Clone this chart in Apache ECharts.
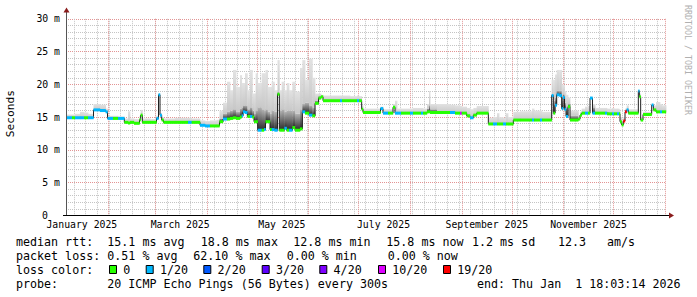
<!DOCTYPE html>
<html><head><meta charset="utf-8">
<script src="https://cdn.jsdelivr.net/npm/echarts@6/dist/echarts.min.js"></script>
<style>html,body{margin:0;padding:0;background:#fff}#c{width:697px;height:297px}</style>
</head><body><div id="c"></div>
<script>
// x values are days since 2025-01-01 00:00; each entry starts a segment, last entry = end of graph
const days = [5.5,9.1,10.9,13.9,16.3,18.7,22.0,25.9,29.3,30.4,33.7,36.7,40.5,42.7,43.9,46.3,49.6,50.3,51.3,55.9,
59.8,61.0,61.9,62.9,64.0,70.9,78.7,80.9,85.9,88.9,91.9,95.9,
97.6,99.7,102.1,103.9,105.7,107.5,109.9,110.9,111.7,112.9,114.3,115.9,117.3,118.3,119.3,120.5,122.9,124.3,125.2,126.5,
127.9,128.9,130.5,132.4,133.5,134.9,136.5,137.9,139.3,141.3,142.9,145.9,147.3,148.9,151.3,153.3,154.9,157.0,158.5,
159.7,169.9,171.1,175.9,180.1,181.3,182.9,183.7,194.2,195.7,198.7,201.7,202.9,
204.1,206.5,211.9,213.7,218.5,219.7,222.1,223.3,223.9,228.1,235.9,238.9,241.9,242.9,245.9,247.9,249.9,251.9,258.9,261.7,
264.1,265.3,267.7,269.5,270.7,273.9,277.9,285.1,286.3,289.9,291.1,296.9,297.9,298.9,299.9,301.5,302.9,303.7,304.6,305.5,
306.7,307.9,312.9,313.9,314.9,316.9,318.7,319.9,321.4,322.9,328.9,330.1,333.1,334.3,336.1,337.3,337.9,338.9,339.9,340.9,
341.9,342.9,348.9,349.5,350.3,351.7,356.9,357.9,359.5,361.9,363.1,365.5];
// median rtt in ms
const medianMs = [14.9,14.9,14.9,14.9,14.9,14.9,16.1,16.0,15.8,14.8,14.8,14.8,14.2,14.1,14.2,14.05,14.6,15.3,14.2,14.2,
14.8,18.4,15.3,14.55,14.2,14.2,14.2,14.2,13.75,13.65,13.65,13.65,
14.3,14.7,14.7,14.8,14.9,14.8,15.0,15.2,15.8,15.7,15.1,15.1,15.0,14.3,14.3,13.0,13.0,13.1,14.3,14.3,
13.1,13.1,13.0,18.5,13.0,13.0,13.3,13.0,13.0,13.4,13.0,13.2,15.8,15.6,15.3,15.2,17.1,17.9,18.1,
17.5,17.5,17.5,17.5,17.5,17.5,16.2,15.7,16.3,15.6,15.6,16.5,15.6,
15.6,15.6,15.6,15.6,15.6,15.6,15.8,15.8,15.7,15.7,15.7,15.6,15.6,15.6,15.2,14.9,15.3,15.6,13.95,13.95,
13.95,13.95,13.95,13.95,13.95,14.55,14.55,14.55,14.55,14.55,14.55,18.3,15.6,16.8,18.4,18.3,16.3,18.0,16.2,15.1,
16.6,14.55,14.7,15.3,15.6,15.6,15.6,17.9,15.6,15.6,15.6,15.5,15.5,15.5,15.5,15.5,14.3,13.8,14.4,15.8,
16.1,15.6,19.0,18.1,14.55,15.4,16.85,16.1,15.8,15.8,15.8];
// pings lost out of 20
const lossPings = [1,0,1,1,0,1,1,1,1,1,0,1,0,0,0,0,0,0,0,0,
1,1,1,0,0,0,1,0,1,1,0,0,
0,1,0,0,0,0,0,1,1,1,0,1,0,0,0,1,0,1,0,0,
0,1,1,0,0,0,1,0,1,0,0,0,1,0,1,0,0,0,0,
0,1,0,0,1,0,0,0,1,1,0,0,1,
1,0,1,0,1,0,0,0,0,0,1,0,10,0,0,1,0,0,0,1,
0,0,1,0,0,0,0,1,0,1,0,1,0,1,1,1,1,1,1,1,
0,0,0,0,0,1,0,1,1,0,1,0,1,0,1,0,0,0,19,19,
1,0,1,0,0,0,1,0,0,1,0];
// upper edge of the dark smoke (ms)
const smokeMid = [14.9,14.9,14.9,14.9,14.9,14.9,16.1,16.0,15.8,14.8,14.8,14.8,14.2,14.1,14.2,14.05,14.6,15.3,14.2,14.2,
14.8,18.4,15.3,14.55,14.2,14.2,14.2,14.2,13.75,13.65,13.65,13.65,
14.8,15.5,15.8,16.0,16.2,15.8,16.3,16.5,16.8,16.8,16.2,16.5,16.0,15.5,16.0,16.5,16.2,16.0,16.2,15.8,
15.5,16.0,15.8,18.8,16.0,16.2,15.8,16.0,16.0,16.0,15.5,16.2,17.0,17.2,16.8,16.5,17.5,18.2,18.2,
17.5,17.5,17.5,17.5,17.5,17.5,16.2,15.7,16.3,15.6,15.6,16.5,15.6,
15.6,15.6,15.6,15.6,15.6,15.6,16.3,16.8,16.2,15.7,15.7,15.6,15.6,15.6,15.2,14.9,15.3,15.6,13.95,13.95,
13.95,13.95,13.95,13.95,13.95,14.55,14.55,14.55,14.55,14.55,14.55,18.5,17.5,18.0,19.0,19.0,17.5,18.5,17.2,16.5,
17.0,15.2,14.7,15.3,15.6,15.6,15.6,17.9,16.5,15.6,15.6,15.5,15.5,15.5,15.5,15.5,14.3,13.8,14.4,15.8,
16.1,15.6,19.0,18.1,14.55,15.4,16.85,16.1,15.8,15.8,15.8];
// top of the smoke (ms)
const smokeHi = [15.4,15.4,15.5,15.8,15.7,15.5,17.0,16.9,16.3,15.2,15.2,15.1,14.8,15.9,14.8,14.7,15.2,16.1,14.8,14.7,
15.2,18.6,15.6,15.0,14.8,14.9,14.9,14.8,14.5,14.4,14.5,14.6,
16.0,17.2,20.4,19.1,22.2,19.6,21.4,20.2,20.2,21.7,19.1,22.2,18.6,18.6,21.7,20.2,21.7,21.7,22.2,19.6,
19.6,20.4,19.1,23.7,19.1,20.4,19.1,20.2,19.1,20.4,18.9,22.5,23.7,20.7,23.9,21.0,18.6,18.6,18.4,
18.3,18.3,18.3,18.2,18.3,18.2,16.8,16.3,16.6,16.2,16.2,17.0,17.5,
16.3,16.3,16.3,16.4,16.4,16.3,17.0,19.0,17.0,17.0,16.9,16.8,16.7,16.6,16.4,16.2,16.4,16.7,14.9,15.0,
15.6,15.0,14.9,15.6,15.0,15.8,15.9,16.3,16.0,16.0,15.8,20.7,20.7,21.5,22.2,22.2,20.0,19.9,19.0,18.4,
18.0,16.0,15.2,15.8,16.3,16.6,16.7,18.1,17.0,16.4,16.4,16.3,16.4,16.3,16.3,16.2,15.0,14.5,15.0,16.3,
16.8,16.2,19.1,18.6,15.0,15.8,17.0,16.8,17.3,17.0,16.8];

const monthStarts = [31,59,90,120,151,181,212,243,273,304,334,365];
const weekLines = [10.3,17.3,24.3,31.3,38.3,45.3,52.3,59.3,66.3,73.3,80.3,87.3,94.3,101.3,108.3,115.3,122.3,129.3,136.3,143.3,
150.3,157.3,164.3,171.3,178.3,185.3,192.3,199.3,206.3,213.3,220.3,227.3,234.3,241.3,248.3,255.3,262.3,269.3,276.3,283.3,
290.3,297.3,304.3,311.3,318.3,325.3,332.3,339.3,346.3,353.3,360.3];
const monthLabelDays = [15,74,135,196,258,319];
const monthLabels = ['January 2025','March 2025','May 2025','July 2025','September 2025','November 2025'];

const lossLevels = [0,1,2,3,4,10,19];
const lossNames = ['0','1/20','2/20','3/20','4/20','10/20','19/20'];
const lossColors = ['#26ff00','#00b8ff','#0059ff','#5e00ff','#7e00ff','#dd00ff','#ff0000'];

const legendRtt = ['median rtt:','15.1 ms avg','18.8 ms max','12.8 ms min','15.8 ms now','1.2 ms sd','12.3','am/s'];
const legendLoss = ['packet loss:','0.51 % avg','62.10 % max','0.00 % min','0.00 % now'];
const probeText = ['probe:','20 ICMP Echo Pings (56 Bytes) every 300s','end: Thu Jan  1 18:03:14 2026'];

// ---------- build ----------
const N = medianMs.length;
const segs = [];
for (let i = 0; i < N; i++) segs.push([days[i], days[i+1], medianMs[i], smokeMid[i], smokeHi[i], lossPings[i]]);
const lineData = [];
for (let i = 0; i < N; i++) lineData.push([days[i], medianMs[i]]);
lineData.push([days[N], medianMs[N-1]]);
function lossColor(l){ let c = lossColors[0]; for (let k=0;k<lossLevels.length;k++){ if (l >= lossLevels[k]) c = lossColors[k]; } return c; }

const MONO = '"DejaVu Sans Mono", "Liberation Mono", monospace';
const chart = echarts.init(document.getElementById('c'), null, {renderer:'svg'});

const gridTop = 18.8, gridH = 196.6, gridL = 66, gridR = 31;
const minorGrid = {color:'#c4c4c4', type:[1,1], width:1};
const majorGrid = {color:'#e39494', type:[1,1], width:1};

const graphics = [];
function txt(s, x, y, size, extra){
  return {type:'text', x:x, y:y, silent:true, style:Object.assign({text:s, font: size + 'px ' + MONO, fill:'#000', align:'left', verticalAlign:'middle', textAlign:'left', textVerticalAlign:'middle'}, extra||{})};
}
// axis lines & arrows
graphics.push({type:'line', silent:true, z:10, shape:{x1:66.5, y1:215.5, x2:66.5, y2:12}, style:{stroke:'#555', lineWidth:1}});
graphics.push({type:'line', silent:true, z:10, shape:{x1:63, y1:215.5, x2:670, y2:215.5}, style:{stroke:'#000', lineWidth:1}});
graphics.push({type:'polygon', silent:true, z:10, shape:{points:[[63.5,12.5],[69.5,12.5],[66.5,7.5]]}, style:{fill:'#8a1c1c'}});
graphics.push({type:'polygon', silent:true, z:10, shape:{points:[[669,212.5],[669,218.5],[674,215.5]]}, style:{fill:'#8a1c1c'}});
// titles
const ys = txt('Seconds', 0, 0, 11.2, {align:'center', textAlign:'center'});
ys.x = 10.8; ys.y = 113.7; ys.rotation = Math.PI/2; graphics.push(ys);
const wm = txt('RRDTOOL / TOBI OETIKER', 0, 0, 8.3, {align:'center', textAlign:'center', fill:'#b0b0b0'});
wm.x = 688; wm.y = 60; wm.rotation = -Math.PI/2; graphics.push(wm);
// legend
const FS = 11.66;
const rttX = [16,107.3,200.7,293.3,386.3,472,558,607];
legendRtt.forEach((s,i)=>graphics.push(txt(s, rttX[i], 242, FS)));
const lossX = [16,107.3,193.3,286.7,387.7];
legendLoss.forEach((s,i)=>graphics.push(txt(s, lossX[i], 255.5, FS)));
graphics.push(txt('loss color:', 16, 269.5, FS));
const boxX = [109,145.7,203.3,261.7,319.3,378,443];
lossNames.forEach((s,i)=>{
  graphics.push({type:'rect', silent:true, shape:{x:boxX[i]+0.5, y:265.5, width:7, height:8}, style:{fill:lossColors[i], stroke:'#000', lineWidth:1}});
  graphics.push(txt(s, boxX[i]+14.3, 269.5, FS));
});
graphics.push(txt(probeText[0], 16, 283.5, FS));
graphics.push(txt(probeText[1], 107.3, 283.5, FS));
graphics.push(txt(probeText[2], 680.5, 283.5, FS, {align:'right', textAlign:'right'}));

const labelFont = {fontFamily: MONO, fontSize: 9.8, color:'#000'};

chart.setOption({
  animation:false,
  backgroundColor:'#fff',
  grid:{left:gridL, right:gridR, top:gridTop, height:gridH, containLabel:false},
  xAxis:[
    {type:'value', position:'bottom', min:5.5, max:365.5, axisLine:{show:false}, axisTick:{show:false, customValues:weekLines},
     axisLabel:{show:false}, splitLine:{show:true, lineStyle:minorGrid}},
    {type:'value', position:'bottom', min:5.5, max:365.5, axisLine:{show:false}, axisTick:{show:false, customValues:monthStarts},
     axisLabel:{show:false}, splitLine:{show:true, lineStyle:majorGrid}},
    {type:'value', position:'bottom', min:5.5, max:365.5, axisLine:{show:false}, axisTick:{show:false, customValues:monthLabelDays},
     splitLine:{show:false},
     axisLabel:Object.assign({show:true, margin:4, customValues:monthLabelDays, hideOverlap:false, showMinLabel:true, showMaxLabel:true,
       formatter:function(v){ let b=0; for(let k=1;k<monthLabelDays.length;k++){ if(Math.abs(monthLabelDays[k]-v)<Math.abs(monthLabelDays[b]-v)) b=k; } return monthLabels[b]; }}, labelFont)}
  ],
  yAxis:[
    {type:'value', position:'left', min:0, max:30, interval:1, axisLine:{show:false}, axisTick:{show:false}, axisLabel:{show:false},
     splitLine:{show:true, lineStyle:minorGrid}},
    {type:'value', position:'left', min:0, max:30, interval:5, axisLine:{show:false}, axisTick:{show:false},
     axisLabel:Object.assign({show:true, margin:6, formatter:function(v){ return v===0 ? '{z|0}' : v + ' m'; },
       rich:{z:{fontFamily:MONO, fontSize:9.8, color:'#000', padding:[0,12,0,0]}}}, labelFont),
     splitLine:{show:true, lineStyle:majorGrid}}
  ],
  series:[
    {type:'custom', name:'smoke', z:2, xAxisIndex:0, yAxisIndex:0, data:segs, encode:{x:[0,1], y:[2,3,4]}, silent:true,
     renderItem:function(params, api){
       const d0 = api.value(0), d1 = api.value(1), med = api.value(2), mid = api.value(3), hi = api.value(4);
       const xa = api.coord([d0, med])[0], xb = api.coord([d1, med])[0];
       const yMed = api.coord([d0, med])[1], yMid = api.coord([d0, mid])[1], yHi = api.coord([d0, hi])[1];
       const w = Math.max(xb - xa, 0.8) + 0.4;
       const ch = [];
       if (yMed - yMid > 0.2) ch.push({type:'rect', shape:{x:xa, y:yMid, width:w, height:yMed - yMid},
         style:{fill:new echarts.graphic.LinearGradient(0,1,0,0,[{offset:0,color:'#2a2a2a'},{offset:1,color:'#b4b4b4'}])}});
       if (yMid - yHi > 0.2) ch.push({type:'rect', shape:{x:xa, y:yHi, width:w, height:yMid - yHi},
         style:{fill:new echarts.graphic.LinearGradient(0,1,0,0,[{offset:0,color:'#c8c8c8'},{offset:1,color:'#e2e2e2'}])}});
       return {type:'group', children:ch};
     }},
    {type:'line', name:'median', z:3, xAxisIndex:0, yAxisIndex:0, data:lineData, step:'end', symbol:'none', silent:true,
     lineStyle:{color:'#202020', width:1}},
    {type:'custom', name:'loss', z:4, xAxisIndex:0, yAxisIndex:0, data:segs, encode:{x:[0,1], y:2}, silent:true,
     renderItem:function(params, api){
       const d0 = api.value(0), d1 = api.value(1), med = api.value(2), l = api.value(5);
       const p0 = api.coord([d0, med]), p1 = api.coord([d1, med]);
       return {type:'rect', shape:{x:p0[0], y:p0[1]-1.5, width:Math.max(p1[0]-p0[0],0.8)+0.2, height:3}, style:{fill:lossColor(l)}};
     }}
  ],
  graphic: graphics
});
</script>
</body></html>
